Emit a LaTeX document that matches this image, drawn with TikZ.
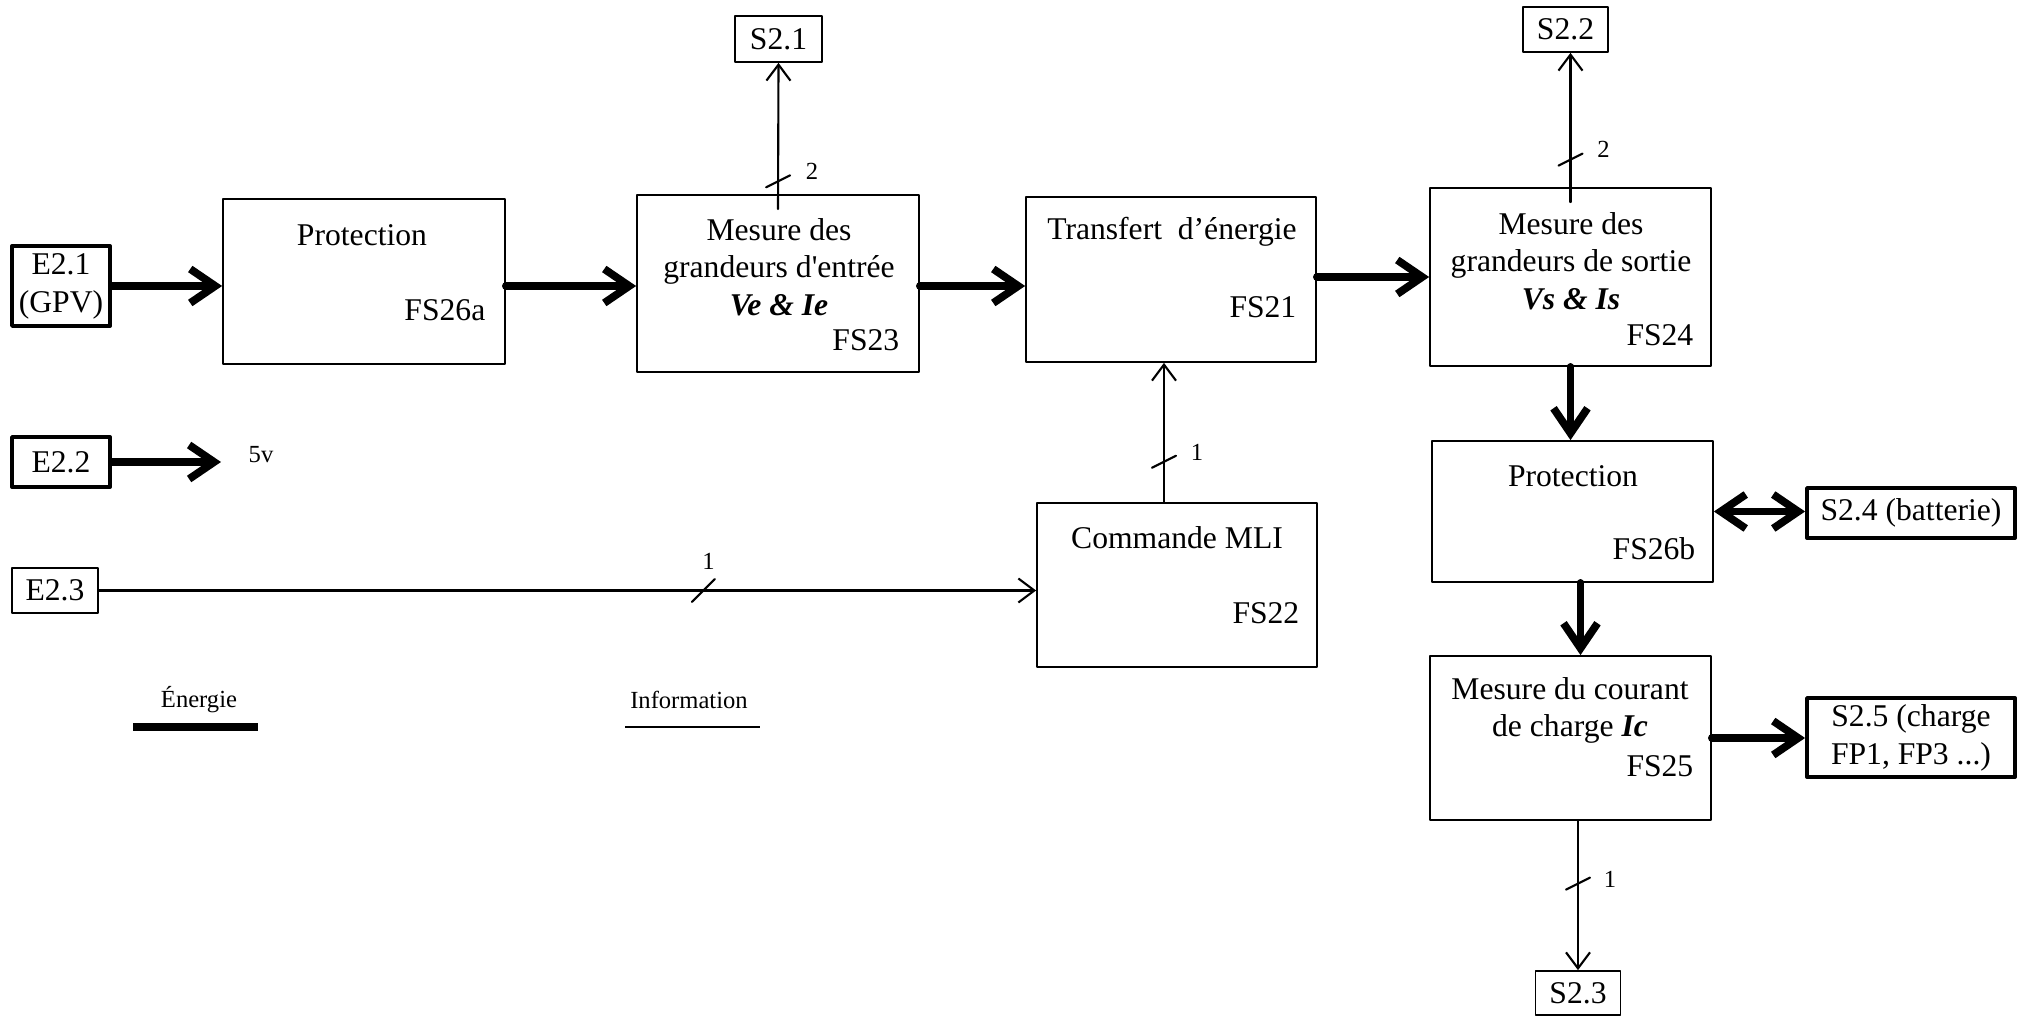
\documentclass[tikz,border=0pt]{standalone}
\usepackage{fontspec}
\setmainfont{Liberation Serif}[Ligatures=TeXOff]
\usetikzlibrary{arrows.meta,calc}
\begin{document}
\begin{tikzpicture}[x=0.1mm, y=-0.1mm, line cap=round, line join=round,
    bloc/.style={draw, line width=0.5pt, inner sep=0pt},
    port/.style={draw, line width=0.5pt, inner sep=0pt, align=center,
      font=\fontsize{9}{10.8}\selectfont},
    portfort/.style={port, line width=1.1pt},
    txt/.style={inner sep=0pt, align=center, font=\fontsize{9}{10.7}\selectfont},
    fsnum/.style={txt, anchor=east},
    petit/.style={inner sep=0pt, font=\fontsize{7}{8}\selectfont},
    energie/.style={line width=2.2pt, -{Straight Barb[length=2.5mm, width=3.4mm]}},
    info/.style={line width=0.6pt, -{Straight Barb[length=1.6mm, width=2.4mm]}},
    trait/.style={line width=0.6pt}]
  \useasboundingbox (0,0) rectangle (2022,1016);
  % entrees
  \node[portfort, minimum width=9.8mm, minimum height=8mm] (e21) at (61,286) {E2.1\\(GPV)};
  \node[portfort, minimum width=9.8mm, minimum height=5mm] (e22) at (61,462) {E2.2};
  \node[port, minimum width=8.6mm, minimum height=4.5mm] (e23) at (55,590.5) {E2.3};
  \coordinate (bout5v) at (221,462);
  \node[petit] (l5v) at (261,455) {5v};
  % blocs fonctionnels
  \node[bloc, minimum width=28.2mm, minimum height=16.5mm] (fs26a) at (364,281.5) {};
  \node[txt] (fs26a-t) at (362,235) {Protection};
  \node[fsnum] (fs26a-n) at (486,310) {FS26a};
  \node[bloc, minimum width=28.2mm, minimum height=17.7mm] (fs23) at (778,283.5) {};
  \node[txt] (fs23-t) at (779,267) {Mesure des\\grandeurs d'entrée\\\textbf{\textit{Ve \& Ie}}};
  \node[fsnum] (fs23-n) at (900,340) {FS23};
  \node[bloc, minimum width=29mm, minimum height=16.5mm] (fs21) at (1171,279.5) {};
  \node[txt] (fs21-t) at (1172,232) {Transfert~~d’énergie};
  \node[fsnum] (fs21-n) at (1297,307) {FS21};
  \node[bloc, minimum width=28mm, minimum height=16.4mm] (fs22) at (1177,585) {};
  \node[txt] (fs22-t) at (1177,538) {Commande MLI};
  \node[fsnum] (fs22-n) at (1300,613) {FS22};
  \node[bloc, minimum width=28.1mm, minimum height=17.8mm] (fs24) at (1570.5,277) {};
  \node[txt] (fs24-t) at (1571,261) {Mesure des\\grandeurs de sortie\\\textbf{\textit{Vs \& Is}}};
  \node[fsnum] (fs24-n) at (1694,335) {FS24};
  \node[bloc, minimum width=28.1mm, minimum height=14.1mm] (fs26b) at (1572.5,511.5) {};
  \node[txt] (fs26b-t) at (1573,476) {Protection};
  \node[fsnum] (fs26b-n) at (1696,549) {FS26b};
  \node[bloc, minimum width=28.1mm, minimum height=16.4mm] (fs25) at (1570.5,738) {};
  \node[txt] (fs25-t) at (1570,710.5) {Mesure du courant\\de charge \textbf{\textit{Ic}}};
  \node[fsnum] (fs25-n) at (1694,766) {FS25};
  % sorties
  \node[port, minimum width=8.7mm, minimum height=4.6mm] (s21) at (778.5,39) {S2.1};
  \node[port, minimum width=8.5mm, minimum height=4.5mm] (s22) at (1565.5,29.5) {S2.2};
  \node[port, minimum width=8.5mm, minimum height=4.4mm] (s23) at (1578,993) {S2.3};
  \node[portfort, minimum width=20.8mm, minimum height=5mm] (s24) at (1911,513) {S2.4 (batterie)};
  \node[portfort, minimum width=20.8mm, minimum height=7.9mm] (s25) at (1911,737.5) {S2.5 (charge\\FP1, FP3 ...)};
  % energie
  \draw[energie] (e21.east) -- (e21.east -| fs26a.west);
  \draw[energie] (fs26a.east |- e21.east) -- (fs23.west |- e21.east);
  \draw[energie] (fs23.east |- e21.east) -- (fs21.west |- e21.east);
  \draw[energie] (fs21.east |- fs24.west) -- (fs24.west);
  \draw[energie] (fs24.south) -- (fs24.south |- fs26b.north);
  \draw[energie] ([xshift=0.8mm]fs26b.south) -- ([xshift=0.8mm]fs26b.south |- fs25.north);
  \draw[energie, {Straight Barb[length=2.5mm, width=3.4mm]}-{Straight Barb[length=2.5mm, width=3.4mm]}]
    (fs26b.east) -- (fs26b.east -| s24.west);
  \draw[energie] (fs25.east) -- (fs25.east -| s25.west);
  \draw[energie] (e22.east) -- (bout5v);
  % information
  \draw[info] ([yshift=-1.5mm]fs23.north) -- coordinate[pos=0.19] (t21) (s21.south);
  \draw[info] ([yshift=-1.5mm]fs24.north) -- coordinate[pos=0.285] (t22) (fs24.north |- s22.south);
  \draw[info] ([xshift=-1.3mm]fs22.north) -- coordinate[pos=0.29] (tmli) ([xshift=-1.3mm]fs22.north |- fs21.south);
  \draw[info] (fs25.south -| s23.north) -- coordinate[pos=0.42] (t23) (s23.north);
  \draw[info] (e23.east) -- coordinate[pos=0.645] (te23) (e23.east -| fs22.west);
  \foreach \t in {t21,t22,tmli,t23}
    \draw[trait] ($(\t)+(-12,6)$) -- ($(\t)+(12,-6)$);
  \draw[trait] ($(te23)+(-11.5,11.5)$) -- ($(te23)+(11.5,-11.5)$);
  \node[petit] (n21) at ($(t21)+(34,-10)$) {2};
  \node[petit] (n22) at ($(t22)+(33,-10)$) {2};
  \node[petit] (nmli) at ($(tmli)+(33,-9)$) {1};
  \node[petit] (n23) at ($(t23)+(32,-4)$) {1};
  \node[petit] (ne23) at ($(te23)+(5,-29)$) {1};
  % legende
  \node[petit] (leg-e) at (199,700) {Énergie};
  \coordinate (leg-e1) at (133,727);
  \coordinate (leg-e2) at (258,727);
  \draw[line width=2.1pt, line cap=butt] (leg-e1) -- (leg-e2);
  \node[petit] (leg-i) at (689,700) {Information};
  \coordinate (leg-i1) at (625,727);
  \coordinate (leg-i2) at (760,727);
  \draw[line width=0.8pt, line cap=butt] (leg-i1) -- (leg-i2);
\end{tikzpicture}
\end{document}
